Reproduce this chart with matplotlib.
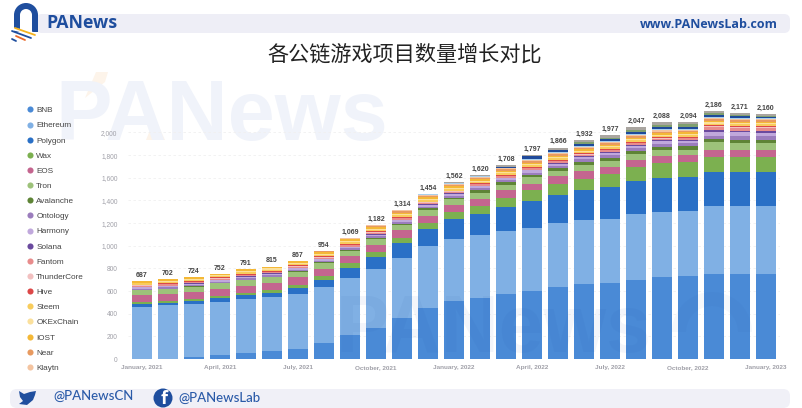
import numpy as np
import matplotlib
matplotlib.use("Agg")
import matplotlib.pyplot as plt
from matplotlib.lines import Line2D
from matplotlib.patches import FancyBboxPatch, Circle, Wedge, Rectangle, Polygon

months = ["January, 2021","","","April, 2021","","","July, 2021","","","October, 2021","","",
          "January, 2022","","","April, 2022","","","July, 2022","","","October, 2022","","","January, 2023"]
totals = [687,702,724,752,791,815,867,954,1069,1182,1314,1454,1562,1620,1708,1797,1866,1932,1977,2047,2088,2094,2186,2171,2160]

s_bnb =      [0,0,20,35,56,71,92,144,212,276,362,450,512,541,571,603,633,659,671,697,720,730,747,747,747]
s_ethereum = [462,474,468,471,471,476,479,489,503,521,532,547,547,550,556,556,565,565,567,580,580,579,603,603,600]
s_polygon =  [23,23,26,29,35,38,56,61,91,106,133,153,174,192,212,236,252,265,280,294,300,300,303,303,306]
s_wax =      [18,18,16,21,23,24,29,39,38,41,44,53,62,70,85,94,97,102,115,123,130,130,133,133,133]
s_eos =      [59,61,61,59,62,64,65,64,62,65,64,62,64,62,65,58,65,68,59,62,62,61,63,63,63]
s_tron =     [47,44,47,53,50,48,50,50,50,53,50,53,50,50,47,57,50,53,56,50,53,49,62,60,60]
s_avalanche =[0,0,2,4,4,6,6,6,6,8,10,12,14,24,24,20,21,27,29,30,30,30,28,28,28]
s_ontology = [12,12,12,12,12,12,12,14,14,15,16,16,18,18,20,22,24,24,25,26,26,28,31,30,30]
s_harmony =  [12,12,12,10,12,12,12,12,12,12,12,14,16,16,16,18,18,18,20,20,20,20,36,34,32]
s_solana =   [4,4,4,4,4,4,4,4,5,5,6,6,6,6,6,7,7,8,8,8,8,8,12,12,12]
s_fantom =   [8,10,10,10,10,10,10,12,12,12,12,12,12,12,12,14,14,14,14,14,14,14,29,28,28]
s_thunder =  [4,4,4,4,4,4,4,4,4,4,4,4,4,4,4,5,5,5,5,5,5,5,9,9,9]
s_hive =     [8,8,8,8,10,8,8,8,8,8,8,8,8,8,8,8,8,8,8,8,8,8,10,10,10]
s_steem =    [10,10,10,10,12,12,12,14,14,14,14,14,14,12,12,12,12,12,12,12,12,12,12,12,12]
s_okex =     [8,8,8,8,10,10,10,10,10,10,10,10,10,10,10,10,10,10,10,10,10,10,10,10,10]
s_iost =     [12,14,16,14,16,12,14,14,14,14,14,14,16,14,14,14,14,14,14,14,16,16,12,12,12]
s_near =     [0,0,0,0,0,4,4,6,8,10,12,12,12,10,12,12,12,12,12,14,14,14,20,18,16]
s_klaytn =   [0,0,0,0,0,0,0,3,6,8,8,10,10,8,10,10,10,10,10,10,10,10,8,8,8]
s_sky =      [0,0,0,0,0,0,0,0,0,0,3,4,6,5,6,6,6,7,8,8,8,8,8,8,8]
s_navy =     [0,0,0,0,0,0,0,0,0,0,0,0,0,0,6,26,18,18,18,20,18,20,20,18,16]
s_moss =     [0,0,0,0,0,0,0,0,0,0,0,0,0,0,0,0,8,12,14,18,20,22,12,10,8]
s_stone =    [0,0,0,0,0,0,0,0,0,0,0,0,7,8,12,9,17,21,22,24,24,20,18,15,12]

names = ["BNB","Ethereum","Polygon","Wax","EOS","Tron","Avalanche","Ontology","Harmony","Solana",
         "Fantom","ThunderCore","Hive","Steem","OKExChain","IOST","Near","Klaytn"]
series = [s_bnb,s_ethereum,s_polygon,s_wax,s_eos,s_tron,s_avalanche,s_ontology,s_harmony,s_solana,s_fantom,s_thunder,
          s_hive,s_steem,s_okex,s_iost,s_near,s_klaytn,s_sky,s_navy,s_moss,s_stone]
colors = ["#4a8ad6","#80b0e4","#2a70c6","#7cb050","#c4658f","#9dc27a","#5e8436","#9b7dbd","#c0a8dc","#6a4a9e",
          "#e88c8c","#f2c0c0","#dc4848","#f8cc5c","#fbe09c","#f4b836","#e89a60","#f4c4a0",
          "#a8d0ee","#1f4a9a","#7f9f6f","#a9a5a0"]

W, H = 802, 408
plt.rcParams['font.family'] = ['Liberation Sans', 'DejaVu Sans']
fig = plt.figure(figsize=(W/100, H/100), dpi=100, facecolor="white")

def px_axes(z):
    a = fig.add_axes([0,0,1,1], zorder=z)
    a.set_xlim(0, W); a.set_ylim(H, 0); a.axis("off"); a.patch.set_alpha(0)
    return a

back = px_axes(0)
blue = "#1f4e9e"
back.add_patch(FancyBboxPatch((36,14),754,19,boxstyle="round,pad=0,rounding_size=6",fc="#eeeef6",ec="none"))
back.add_patch(FancyBboxPatch((10,389),780,19,boxstyle="round,pad=0,rounding_size=7",fc="#f0f0f7",ec="none"))
# large watermark behind the chart
back.text(55,140,"PANews",fontsize=61,fontweight="bold",color="#f0f3fa",va="baseline",ha="left",family="Liberation Sans")
back.add_patch(Polygon([[85,98],[105,82],[108,72],[96,72]],fc="#fdf4ea",ec="none"))
back.add_patch(Polygon([[146,140],[165,140],[155,118]],fc="#fdf4ea",ec="none"))
# logo
back.add_patch(Wedge((26,15),12,180,360,fc=blue,ec="none"))
back.add_patch(Rectangle((14,15),24,17,fc=blue,ec="none"))
back.add_patch(Wedge((26,15),6,180,360,fc="white",ec="none"))
back.add_patch(Rectangle((20,15),12,18,fc="white",ec="none"))
back.add_patch(Polygon([[11,27],[38,33],[37,36],[11,30]],fc="white",ec="none"))
back.plot([15,35],[28,35],color="#f5b31e",lw=1.3,solid_capstyle="round")
back.plot([12,31],[31,38],color=blue,lw=1.3,solid_capstyle="round")
back.plot([16,25],[36,40],color="#ea6a2a",lw=1.3,solid_capstyle="round")
back.plot([12,16],[39,41],color=blue,lw=1.3,solid_capstyle="round")
back.set_xlim(0, W); back.set_ylim(H, 0)
back.text(46,23.5,"PANews",fontsize=12.8,fontweight="bold",color=blue,va="center",ha="left",family="Open Sans")
back.text(778,24,"www.PANewsLab.com",fontsize=9,fontweight="bold",color=blue,va="center",ha="right",family="Open Sans")
back.text(405,54.5,"各公链游戏项目数量增长对比",fontsize=15.2,color="#222222",va="center",ha="center",
          family=["Noto Sans CJK SC","DejaVu Sans"])
# footer
back.add_patch(Polygon([[19,391],[24,394],[30,392],[36,391],[35,395],[33,400],[27,405],[19,404],[23,401],[20,397]],fc=blue,ec="none"))
back.add_patch(Circle((163,398),9.5,fc=blue,ec="none"))
back.text(164,399.5,"f",fontsize=13,fontweight="bold",color="white",va="center",ha="center",family="Open Sans")
back.text(53,396,"@PANewsCN",fontsize=9.5,color="#2a5aa8",va="center",ha="left",family="Lato",fontweight="medium")
back.text(178,398,"@PANewsLab",fontsize=9.5,color="#2a5aa8",va="center",ha="left",family="Lato",fontweight="medium")

# main chart: pixel box x 128..780, y 105..359
ax = fig.add_axes([128/W, 1-359/H, (780-128)/W, (359-105)/H], zorder=1)
ax.patch.set_alpha(0)
x = np.arange(len(totals))
bottom = np.zeros(len(totals))
for vals, c in zip(series, colors):
    ax.bar(x, vals, 0.79, bottom=bottom, color=c, linewidth=0)
    bottom += np.array(vals)
for xi, t, b in zip(x, totals, bottom):
    ax.text(xi, b+20, f"{t:,}", fontsize=5, fontweight="bold", color="#444444", ha="center", va="bottom")
ax.set_xlim(-0.538, 24.54)
ax.set_ylim(0, 2242)
ax.set_yticks(np.arange(0, 2001, 200))
ax.set_yticklabels([f"{v:,}" for v in range(0, 2001, 200)], fontsize=4.8, color="#a0a0a8")
ax.tick_params(axis="y", length=0, pad=7.5)
ax.set_xticks(x[::3])
ax.set_xticklabels(months[::3], fontsize=4.6, fontweight="bold", color="#a0a0a8", va="baseline")
ax.tick_params(axis="x", length=0, pad=7.5)
ax.set_axisbelow(True)
ax.grid(axis="y", color="#f0f0f0", lw=0.6, ls=(0,(3,3)))
for s in ax.spines.values():
    s.set_visible(False)

handles = [Line2D([],[],marker="o",ls="",ms=4.4,color=c,mew=0) for c in colors[:18]]
leg = fig.legend(handles, names, loc="upper left", bbox_to_anchor=(24/W, 1-106.5/H), frameon=False,
                 fontsize=5.9, labelspacing=0.905, handletextpad=0.1, borderpad=0, borderaxespad=0, handlelength=1.4,
                 labelcolor="#444444")

# light watermark over the bars
top = px_axes(3)
top.text(336,352,"PANews",fontsize=58,fontweight="bold",color="#1f4e9e",alpha=0.05,va="baseline",ha="left",family="Liberation Sans")
top.add_patch(Wedge((712,332),40,180,360,width=14,fc="#1f4e9e",alpha=0.04,ec="none"))

fig.savefig("out.png", dpi=100)
